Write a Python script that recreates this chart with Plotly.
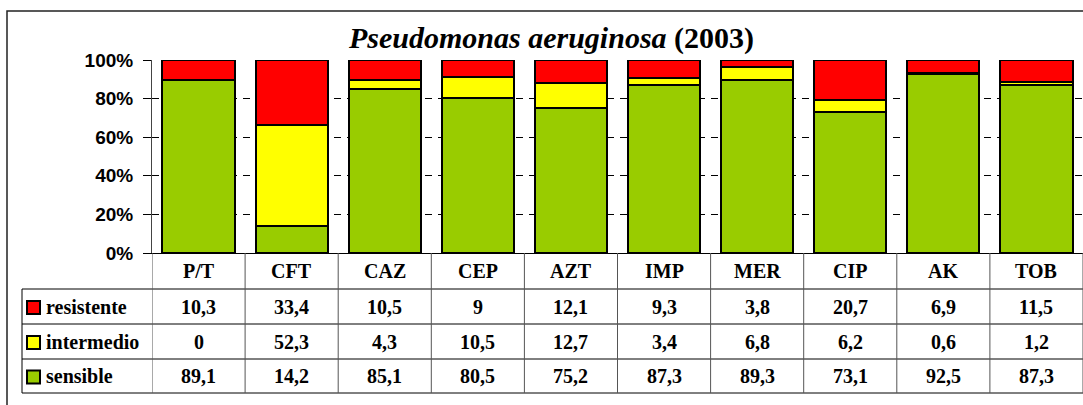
import plotly.graph_objects as go

categories = ["P/T", "CFT", "CAZ", "CEP", "AZT", "IMP", "MER", "CIP", "AK", "TOB"]
resistente = [10.3, 33.4, 10.5, 9, 12.1, 9.3, 3.8, 20.7, 6.9, 11.5]
intermedio = [0, 52.3, 4.3, 10.5, 12.7, 3.4, 6.8, 6.2, 0.6, 1.2]
sensible = [89.1, 14.2, 85.1, 80.5, 75.2, 87.3, 89.3, 73.1, 92.5, 87.3]
series_names = ["resistente", "intermedio", "sensible"]
series_colors = {"resistente": "#FF0000", "intermedio": "#FFFF00", "sensible": "#99CC00"}
y_ticks = [0, 20, 40, 60, 80, 100]

W_FIG, H_FIG = 1083, 405
L, R, T, B = 152, 1083, 60, 253
PW, PH = R - L, B - T

def px_x(x):
    return (x - L) / PW

def px_y(y):
    return (B - y) / PH

def fmt(v):
    return f"{v:g}".replace(".", ",")

fig = go.Figure()
data = {"resistente": resistente, "intermedio": intermedio, "sensible": sensible}
for name in ["sensible", "intermedio", "resistente"]:
    fig.add_trace(go.Bar(
        x=categories, y=data[name], name=name,
        marker=dict(color=series_colors[name], line=dict(color="black", width=2)),
        showlegend=False, hoverinfo="skip",
    ))

shapes = []
annotations = []
line_col = "#000000"
vcol = "#555555"

# outer chart border
shapes.append(dict(type="rect", xref="paper", yref="paper",
                   x0=px_x(7), x1=px_x(1095), y0=px_y(11), y1=px_y(420),
                   line=dict(color="#222222", width=1.5), layer="below"))

# table rows
row_y = [253, 289, 324, 359, 393]
for y in row_y[1:]:
    shapes.append(dict(type="line", xref="paper", yref="paper",
                       x0=px_x(22), x1=px_x(1090), y0=px_y(y), y1=px_y(y),
                       line=dict(color=line_col, width=1)))
shapes.append(dict(type="line", xref="paper", yref="paper",
                   x0=px_x(22), x1=px_x(22), y0=px_y(289), y1=px_y(393),
                   line=dict(color=line_col, width=1)))
for i in range(len(categories) + 1):
    shapes.append(dict(type="line", xref="x", yref="paper",
                       x0=i - 0.5, x1=i - 0.5, y0=px_y(253), y1=px_y(393),
                       line=dict(color=vcol, width=1)))

SERIF = "Liberation Serif"
tfont = dict(family=SERIF, size=20, color="black")
for i, c in enumerate(categories):
    annotations.append(dict(x=i, y=px_y(271), xref="x", yref="paper", text=f"<b>{c}</b>",
                            showarrow=False, font=tfont, xanchor="center", yanchor="middle"))
row_centers = [(row_y[k + 1] + row_y[k + 2]) / 2 for k in range(3)]
for k, name in enumerate(series_names):
    yc = row_centers[k]
    for i, v in enumerate(data[name]):
        annotations.append(dict(x=i, y=px_y(yc), xref="x", yref="paper", text=f"<b>{fmt(v)}</b>",
                                showarrow=False, font=tfont, xanchor="center", yanchor="middle"))
    shapes.append(dict(type="rect", xref="paper", yref="paper",
                       x0=px_x(27), x1=px_x(40), y0=px_y(yc - 5.5), y1=px_y(yc + 7.5),
                       fillcolor=series_colors[name], line=dict(color="black", width=2)))
    annotations.append(dict(x=px_x(44), y=px_y(yc), xref="paper", yref="paper", text=f"<b>{name}</b>",
                            showarrow=False, font=tfont, xanchor="left", yanchor="middle"))

annotations.append(dict(x=px_x(551), y=px_y(38), xref="paper", yref="paper",
                        text="<b><i>Pseudomonas aeruginosa</i> (2003)</b>",
                        showarrow=False, xanchor="center", yanchor="middle",
                        font=dict(family=SERIF, size=30, color="black")))

fig.update_layout(
    width=W_FIG, height=H_FIG,
    margin=dict(l=L, r=W_FIG - R, t=T, b=H_FIG - B, pad=0),
    barmode="stack", barnorm="percent", bargap=0.225,
    plot_bgcolor="white", paper_bgcolor="white",
    shapes=shapes, annotations=annotations,
)
fig.update_xaxes(range=[-0.5, len(categories) - 0.5], showticklabels=False, ticks="",
                 showline=True, linecolor="black", linewidth=1, showgrid=False, fixedrange=True)
fig.update_yaxes(range=[0, 100], tickvals=y_ticks, ticktext=[f"<b>{t}%</b>" for t in y_ticks],
                 ticks="outside", ticklen=8, tickcolor="black", showline=True,
                 linecolor="#444444", linewidth=1, showgrid=True, gridcolor="black",
                 gridwidth=1, griddash="7px,6px", zeroline=False,
                 tickfont=dict(family="Liberation Sans", size=19, color="black"),
                 ticklabelstandoff=6, fixedrange=True)

fig.write_html("out.html", config={"displayModeBar": False},
               post_script="document.body.style.margin='0';document.body.style.overflow='hidden';")
